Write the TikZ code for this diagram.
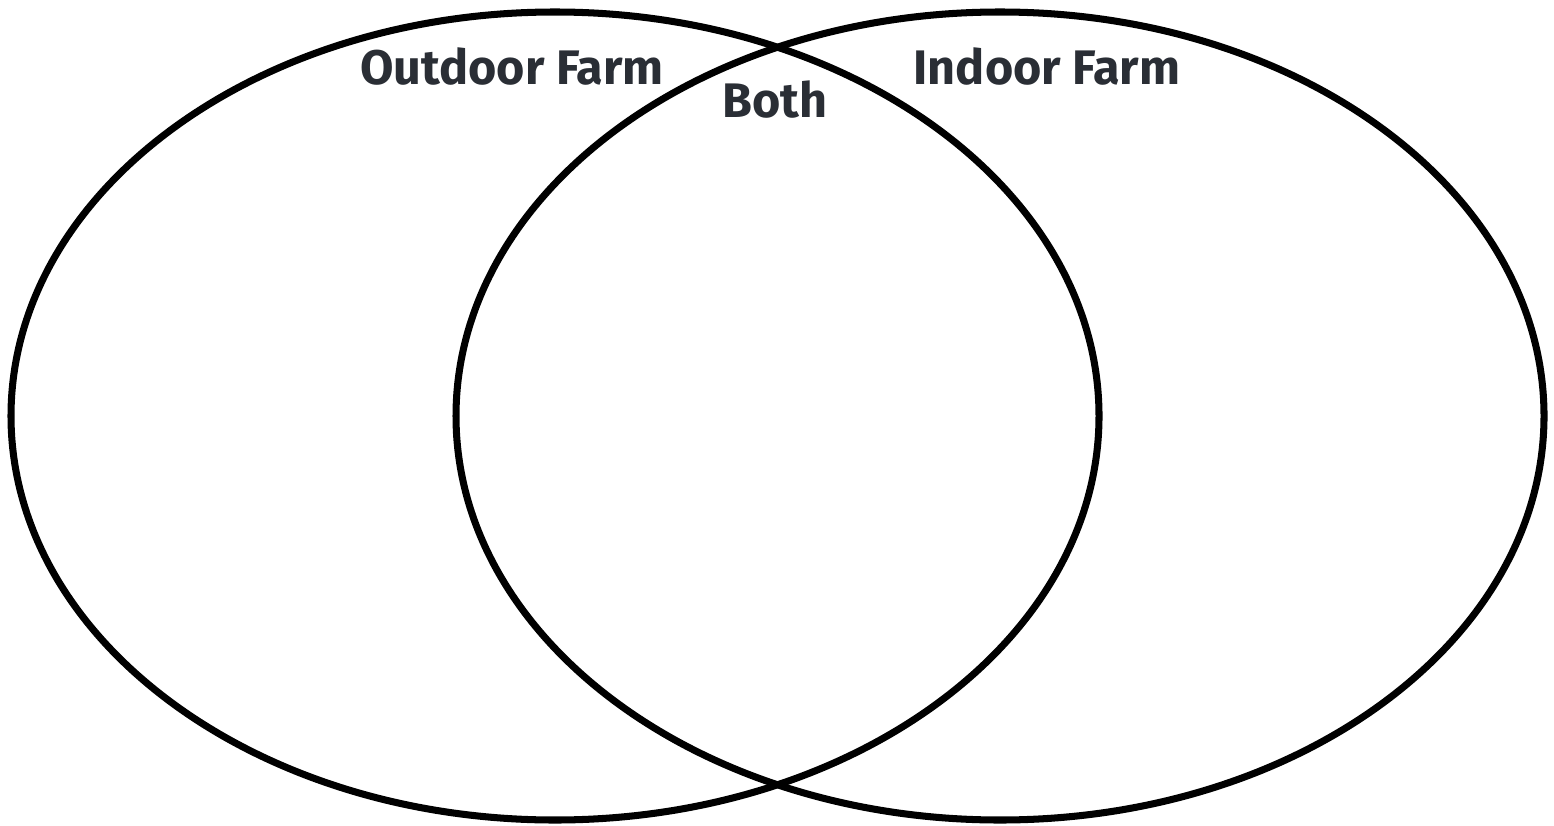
\documentclass[tikz,border=0pt]{standalone}
\usepackage{fontspec}
\setmainfont{Fira Sans}
\usepackage{tikz}
\usetikzlibrary{shapes.geometric}

\definecolor{inkgrey}{HTML}{2A2E35}

\begin{document}
\begin{tikzpicture}[
  ring/.style={draw=black, ellipse, line width=2pt, minimum width=10.88cm,
               minimum height=8.08cm, inner sep=0pt},
  lbl/.style={font=\fontsize{13.8}{15}\selectfont\bfseries, text=inkgrey, inner sep=0pt}
]
\useasboundingbox (0,0) rectangle (15.54,8.25);
\node[ring] (outdoor) at (5.55,4.09) {};
\node[ring] (indoor)  at (10.00,4.09) {};
\node[lbl] (outdoorlbl) at (5.12,7.58) {Outdoor Farm};
\node[lbl] (indoorlbl)  at (10.47,7.58) {Indoor Farm};
\node[lbl] (bothlbl)    at (7.75,7.25) {Both};
\end{tikzpicture}
\end{document}
